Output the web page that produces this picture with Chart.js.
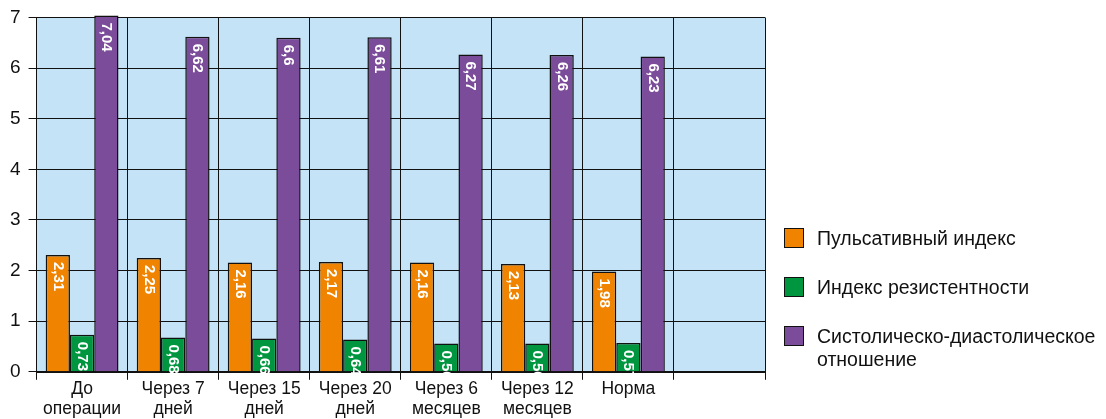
<!DOCTYPE html>
<html lang="ru">
<head>
    <meta charset="UTF-8">
    <title>Индексы кровотока</title>
    <style>
        body {
            margin: 0;
            background: #ffffff;
            font-family: Arial, "Liberation Sans", sans-serif;
        }

        .wrap {
            position: relative;
            width: 1106px;
            height: 419px;
        }

        .legend {
            position: absolute;
            left: 784px;
            top: 227px;
            font-size: 19.5px;
            color: #111;
        }

        .legend-item {
            display: flex;
            align-items: flex-start;
            margin-bottom: 26px;
            line-height: 23px;
        }

        .legend-box {
            width: 18px;
            height: 18px;
            border: 1.5px solid #111;
            margin-right: 13px;
            margin-top: 1px;
            flex: none;
        }
    </style>
    <script src="https://cdn.jsdelivr.net/npm/chart.js@4.4.0/dist/chart.umd.min.js"></script>
</head>
<body>
    <div class="wrap">
        <canvas id="chart" width="1106" height="419"></canvas>
        <div id="legend" class="legend"></div>
    </div>
    <script>
        const categories = [
            ['До', 'операции'],
            ['Через 7', 'дней'],
            ['Через 15', 'дней'],
            ['Через 20', 'дней'],
            ['Через 6', 'месяцев'],
            ['Через 12', 'месяцев'],
            ['Норма'],
            ''
        ];
        const pulsatility = [2.31, 2.25, 2.16, 2.17, 2.16, 2.13, 1.98, null];
        const resistance = [0.73, 0.68, 0.66, 0.64, 0.56, 0.56, 0.57, null];
        const sdRatio = [7.04, 6.62, 6.6, 6.61, 6.27, 6.26, 6.23, null];
        const seriesNames = ['Пульсативный индекс', 'Индекс резистентности', 'Систолическо-диастолическое отношение'];
        const seriesColors = ['#f08400', '#009640', '#7b4c99'];
        const yTicks = [0, 1, 2, 3, 4, 5, 6, 7];

        // light blue plot background
        const plotBackground = {
            id: 'plotBackground',
            beforeDraw(chart) {
                const { ctx, chartArea: a } = chart;
                ctx.save();
                ctx.fillStyle = '#c4e3f7';
                ctx.fillRect(a.left, a.top, a.right - a.left, a.bottom - a.top);
                ctx.restore();
            }
        };

        // white values written downwards inside the top of each bar
        const barValues = {
            id: 'barValues',
            afterDatasetsDraw(chart) {
                const ctx = chart.ctx;
                ctx.save();
                ctx.fillStyle = '#ffffff';
                ctx.font = 'bold 15px Arial';
                ctx.textAlign = 'left';
                ctx.textBaseline = 'middle';
                chart.data.datasets.forEach((ds, i) => {
                    chart.getDatasetMeta(i).data.forEach((bar, j) => {
                        const v = ds.data[j];
                        if (v == null) return;
                        const text = String(v).replace('.', ',');
                        ctx.save();
                        ctx.translate(bar.x, bar.y + 7);
                        ctx.rotate(Math.PI / 2);
                        ctx.fillText(text, 0, 0);
                        ctx.restore();
                    });
                });
                ctx.restore();
            }
        };

        const datasets = [pulsatility, resistance, sdRatio].map((values, i) => ({
            label: seriesNames[i],
            data: values,
            backgroundColor: seriesColors[i],
            borderColor: '#111111',
            borderWidth: 1.5,
            borderSkipped: 'bottom',
            categoryPercentage: 0.8,
            barPercentage: 1.0,
            clip: false
        }));

        new Chart(document.getElementById('chart'), {
            type: 'bar',
            data: { labels: categories, datasets: datasets },
            options: {
                responsive: false,
                animation: false,
                layout: { padding: { top: 0, right: 341, left: 2, bottom: 0 } },
                plugins: {
                    legend: { display: false },
                    tooltip: { enabled: false }
                },
                scales: {
                    x: {
                        grid: {
                            color: '#111111',
                            lineWidth: 1,
                            offset: true,
                            tickLength: 8
                        },
                        border: { color: '#111111', width: 2 },
                        ticks: {
                            color: '#111111',
                            font: { size: 17.5, family: 'Arial', lineHeight: 1.12 },
                            maxRotation: 0,
                            autoSkip: false,
                            padding: 0
                        }
                    },
                    y: {
                        min: 0,
                        max: 7,
                        afterBuildTicks(axis) {
                            axis.ticks = yTicks.map(v => ({ value: v }));
                        },
                        grid: {
                            color: '#111111',
                            lineWidth: 1,
                            tickLength: 8
                        },
                        border: { color: '#111111', width: 1 },
                        ticks: {
                            color: '#111111',
                            font: { size: 19, family: 'Arial', lineHeight: 1.0 },
                            padding: 8
                        }
                    }
                }
            },
            plugins: [plotBackground, barValues]
        });

        const legend = document.getElementById('legend');
        seriesNames.forEach((name, i) => {
            const item = document.createElement('div');
            item.className = 'legend-item';
            const box = document.createElement('span');
            box.className = 'legend-box';
            box.style.background = seriesColors[i];
            const label = document.createElement('span');
            label.innerHTML = i === 2 ? 'Систолическо-диастолическое<br>отношение' : name;
            item.appendChild(box);
            item.appendChild(label);
            legend.appendChild(item);
        });
    </script>
</body>
</html>
